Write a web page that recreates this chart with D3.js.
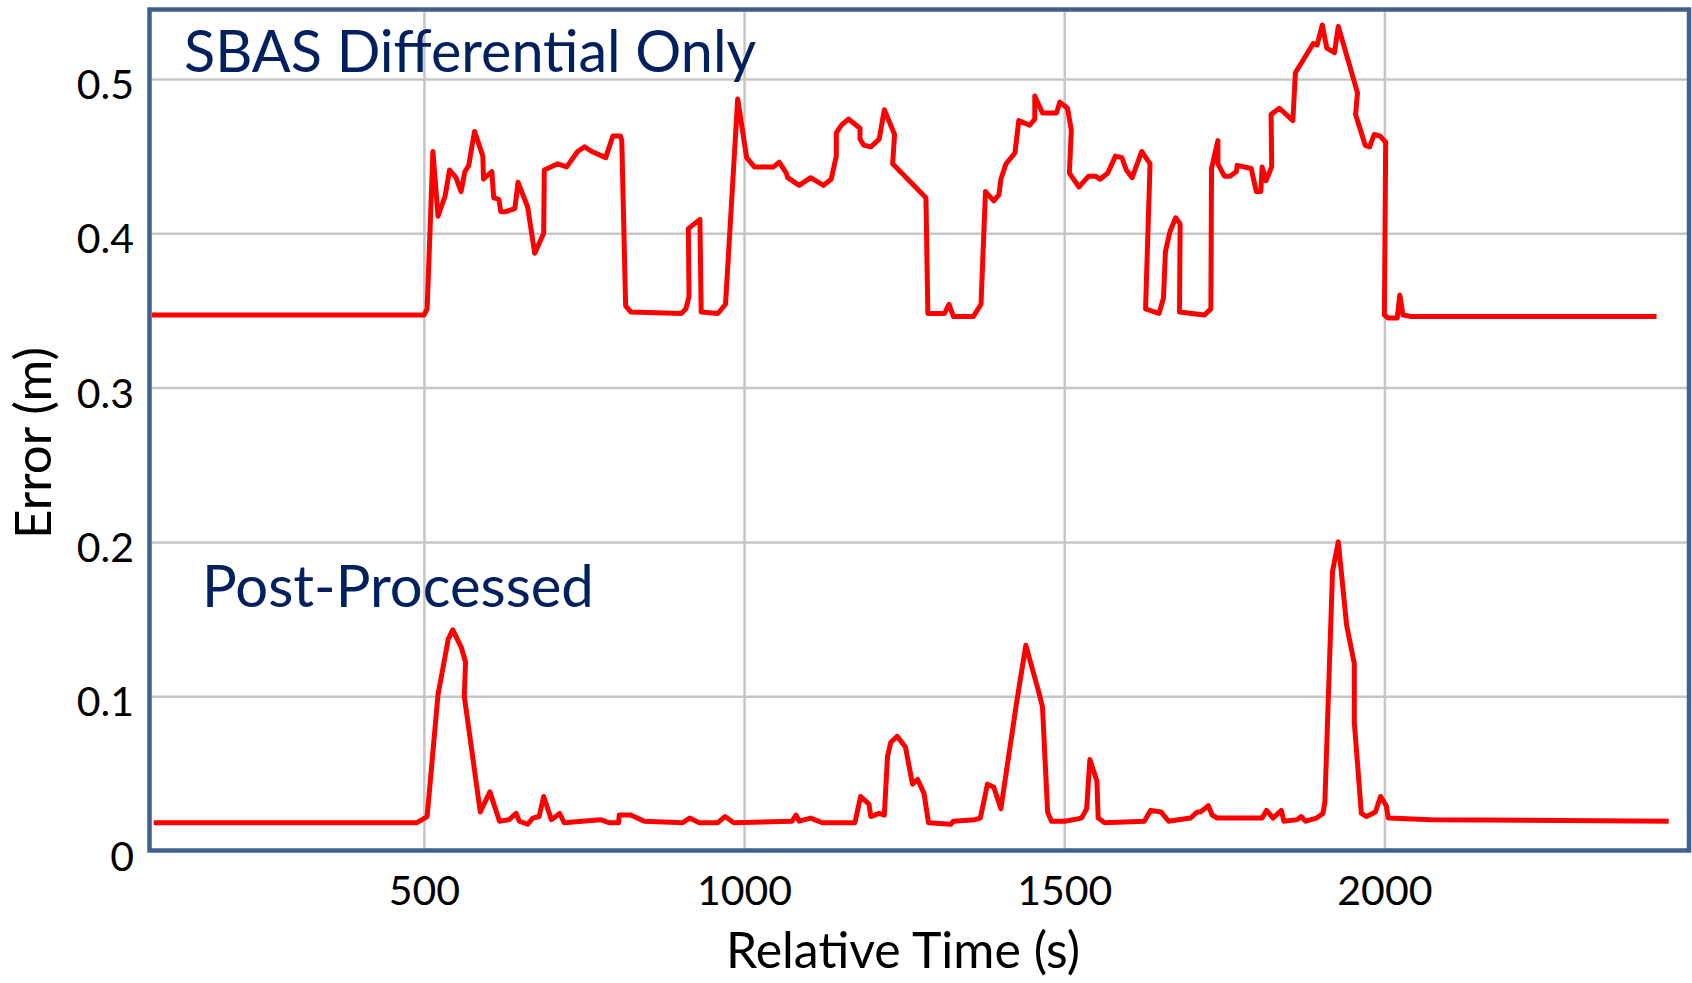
<!DOCTYPE html>
<html>
<head>
<meta charset="utf-8">
<script src="https://cdn.jsdelivr.net/npm/d3@7"></script>
<style>
body { margin: 0; background: #fff; }
svg { display: block; }
text { font-family: Lato, "Open Sans", sans-serif; }
</style>
</head>
<body>
<svg id="chart"></svg>
<script>
"use strict";

// SBAS differential only
var sbasTime = [75, 500, 505, 514, 522, 533, 540, 550, 558, 564, 570, 579, 592, 593, 606, 609, 617, 620, 628, 642,
    647, 662, 673, 687, 688, 709, 723, 740, 751, 762, 784, 795, 807, 809, 815, 823, 902, 909, 914, 913,
    931, 933, 959, 971, 990, 1004, 1016, 1046, 1055, 1066, 1068, 1086, 1104, 1124, 1136, 1144, 1144, 1152, 1163, 1181,
    1181, 1187, 1198, 1211, 1219, 1235, 1232, 1284, 1287, 1313, 1320, 1327, 1358, 1370, 1377, 1390, 1398, 1401, 1409, 1423,
    1429, 1446, 1454, 1454, 1466, 1488, 1493, 1505, 1511, 1508, 1523, 1538, 1549, 1556, 1568, 1580, 1590, 1597, 1606, 1621,
    1634, 1627, 1648, 1655, 1658, 1665, 1674, 1681, 1680, 1719, 1729, 1730, 1740, 1740, 1750, 1759, 1769, 1770, 1792, 1800,
    1807, 1809, 1815, 1824, 1823, 1836, 1857, 1861, 1889, 1895, 1903, 1910, 1922, 1928, 1958, 1955, 1970, 1977, 1984, 1993,
    2002, 2000, 2006, 2020, 2024, 2029, 2042, 2425];
var sbasError = [0.347, 0.347, 0.351, 0.453, 0.411, 0.424, 0.441, 0.436, 0.427, 0.440, 0.444, 0.466, 0.450, 0.435, 0.440, 0.423, 0.422, 0.414, 0.414, 0.416,
    0.433, 0.417, 0.387, 0.400, 0.441, 0.445, 0.443, 0.453, 0.456, 0.453, 0.449, 0.463, 0.463, 0.460, 0.353, 0.349, 0.348, 0.351, 0.359, 0.403,
    0.409, 0.349, 0.348, 0.354, 0.487, 0.449, 0.443, 0.443, 0.446, 0.439, 0.436, 0.431, 0.436, 0.431, 0.435, 0.450, 0.465, 0.470, 0.474, 0.468,
    0.461, 0.457, 0.456, 0.461, 0.480, 0.464, 0.445, 0.423, 0.348, 0.348, 0.354, 0.346, 0.346, 0.354, 0.427, 0.421, 0.425, 0.435, 0.445, 0.452,
    0.473, 0.470, 0.474, 0.489, 0.478, 0.478, 0.485, 0.481, 0.467, 0.439, 0.430, 0.437, 0.437, 0.435, 0.439, 0.450, 0.449, 0.441, 0.436, 0.453,
    0.445, 0.351, 0.348, 0.358, 0.388, 0.401, 0.410, 0.406, 0.349, 0.347, 0.351, 0.442, 0.460, 0.445, 0.437, 0.437, 0.440, 0.444, 0.442, 0.427,
    0.427, 0.443, 0.434, 0.443, 0.477, 0.481, 0.473, 0.504, 0.523, 0.522, 0.535, 0.520, 0.517, 0.534, 0.491, 0.477, 0.457, 0.456, 0.464, 0.463,
    0.459, 0.347, 0.345, 0.345, 0.360, 0.347, 0.346, 0.346];

// post-processed
var ppTime = [78, 489, 505, 522, 538, 545, 558, 565, 563, 588, 603, 618, 633, 644, 649, 662, 670, 680, 687, 699,
    712, 719, 776, 789, 804, 805, 823, 844, 904, 915, 930, 959, 970, 984, 1075, 1081, 1086, 1104, 1122, 1173,
    1182, 1195, 1198, 1211, 1219, 1224, 1229, 1239, 1252, 1263, 1271, 1281, 1288, 1323, 1327, 1360, 1369, 1380, 1390, 1401,
    1426, 1440, 1460, 1466, 1474, 1480, 1501, 1527, 1535, 1540, 1551, 1553, 1563, 1625, 1635, 1651, 1663, 1697, 1708, 1713,
    1725, 1731, 1739, 1809, 1816, 1826, 1839, 1843, 1864, 1870, 1877, 1894, 1904, 1907, 1919, 1928, 1941, 1953, 1953, 1964,
    1972, 1986, 1994, 2003, 2006, 2073, 2444];
var ppError = [0.018, 0.018, 0.022, 0.101, 0.137, 0.143, 0.132, 0.122, 0.100, 0.025, 0.038, 0.019, 0.020, 0.024, 0.019, 0.017, 0.021, 0.022, 0.035, 0.020,
    0.024, 0.018, 0.020, 0.018, 0.018, 0.023, 0.023, 0.019, 0.018, 0.021, 0.018, 0.018, 0.022, 0.018, 0.019, 0.023, 0.019, 0.021, 0.018, 0.018,
    0.035, 0.030, 0.022, 0.024, 0.023, 0.061, 0.070, 0.074, 0.067, 0.043, 0.046, 0.037, 0.018, 0.017, 0.019, 0.020, 0.021, 0.043, 0.041, 0.027,
    0.097, 0.133, 0.103, 0.093, 0.025, 0.019, 0.019, 0.021, 0.027, 0.059, 0.045, 0.021, 0.018, 0.019, 0.026, 0.025, 0.019, 0.021, 0.025, 0.025,
    0.029, 0.023, 0.021, 0.021, 0.026, 0.021, 0.026, 0.019, 0.020, 0.022, 0.019, 0.021, 0.024, 0.031, 0.181, 0.200, 0.146, 0.121, 0.083, 0.024,
    0.022, 0.025, 0.035, 0.029, 0.021, 0.020, 0.019];

var xTicks = [500, 1000, 1500, 2000];
var yTicks = [0, 0.1, 0.2, 0.3, 0.4, 0.5];
var xLabel = "Relative Time (s)";
var yLabel = "Error (m)";
var seriesNames = ["SBAS Differential Only", "Post-Processed"];

var svg_width = 1692;
var svg_height = 983;
var plot = {left: 149.5, top: 9.5, right: 1689, bottom: 850.5};
var grid_color = "#c6c6c6";
var frame_color = "#41618c";
var title_color = "#002060";

var svg = d3.select("#chart")
    .attr("width", svg_width)
    .attr("height", svg_height);

var xScale = d3.scaleLinear()
    .domain([71.4, 2475.7])
    .range([plot.left, plot.right]);
var yScale = d3.scaleLinear()
    .domain([0, 0.545])
    .range([plot.bottom, plot.top]);

// grid lines
svg.append("g")
    .attr("class", "grid grid--x")
    .attr("transform", "translate(0," + plot.bottom + ")")
    .call(d3.axisBottom(xScale).tickValues(xTicks).tickSize(-(plot.bottom - plot.top)).tickFormat(""));
svg.append("g")
    .attr("class", "grid grid--y")
    .attr("transform", "translate(" + plot.left + ",0)")
    .call(d3.axisLeft(yScale).tickValues(yTicks.slice(1)).tickSize(-(plot.right - plot.left)).tickFormat(""));
svg.selectAll(".grid .domain").remove();
svg.selectAll(".grid line")
    .attr("stroke", grid_color)
    .attr("stroke-width", 2.5);

// series
var line = d3.line()
    .x(function(d) {return xScale(d[0]);})
    .y(function(d) {return yScale(d[1]);});

svg.selectAll(".series")
    .data([d3.zip(sbasTime, sbasError), d3.zip(ppTime, ppError)])
    .enter()
    .append("path")
    .attr("class", "series")
    .attr("d", line)
    .attr("fill", "none")
    .attr("stroke", "#ff0000")
    .attr("stroke-width", 5)
    .attr("stroke-linejoin", "round");

// plot area border
svg.append("rect")
    .attr("x", plot.left)
    .attr("y", plot.top)
    .attr("width", plot.right - plot.left)
    .attr("height", plot.bottom - plot.top)
    .attr("fill", "none")
    .attr("stroke", frame_color)
    .attr("stroke-width", 4.5);

// tick labels
var xAxis = svg.append("g")
    .attr("class", "axis axis--x")
    .attr("transform", "translate(0," + plot.bottom + ")")
    .call(d3.axisBottom(xScale).tickValues(xTicks).tickSize(0).tickPadding(25).tickFormat(d3.format("d")));
var yAxis = svg.append("g")
    .attr("class", "axis axis--y")
    .attr("transform", "translate(" + plot.left + ",0)")
    .call(d3.axisLeft(yScale).tickValues(yTicks).tickSize(0).tickPadding(15.5)
        .tickFormat(function(d) {return d === 0 ? "0" : d3.format(".1f")(d);}));
svg.selectAll(".axis .domain").remove();
svg.selectAll(".axis")
    .attr("font-family", "Lato, 'Open Sans', sans-serif")
    .attr("font-size", 41);
svg.selectAll(".axis text").attr("fill", "#000");
yAxis.selectAll("text").attr("dy", "0.48em");

// axis titles
svg.append("text")
    .attr("text-anchor", "middle")
    .attr("x", 903)
    .attr("y", 968)
    .attr("font-size", 50)
    .attr("fill", "#000")
    .text(xLabel);
svg.append("text")
    .attr("text-anchor", "middle")
    .attr("transform", "translate(51,443) rotate(-90)")
    .attr("font-size", 51)
    .attr("fill", "#000")
    .text(yLabel);

// series annotations
svg.append("text")
    .attr("x", 184)
    .attr("y", 72)
    .attr("font-size", 57.5)
    .attr("fill", title_color)
    .text(seriesNames[0]);
svg.append("text")
    .attr("x", 202)
    .attr("y", 607)
    .attr("font-size", 58)
    .attr("fill", title_color)
    .text(seriesNames[1]);
</script>
</body>
</html>
